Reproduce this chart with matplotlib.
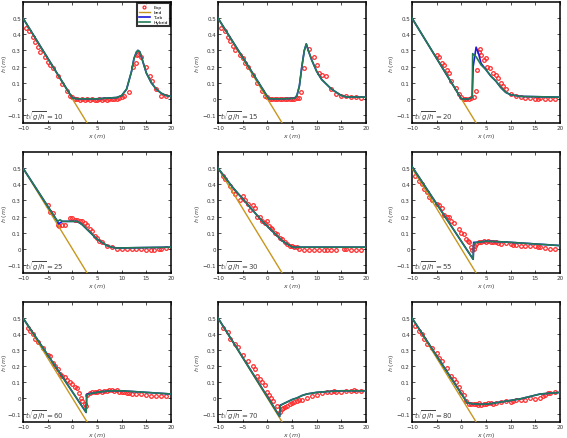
import matplotlib
matplotlib.use("Agg")
import matplotlib.pyplot as plt
import numpy as np

times = [10, 15, 20, 25, 30, 55, 60, 70, 80]
bed_x = [-10, 3]
bed_h = [0.5, -0.15]

# Hybrid model (green)
hyb_x = [
    [-10, 0, 1, 5, 9, 10, 11, 12, 12.5, 13, 13.3, 13.7, 14.2, 15, 16, 17, 18, 19, 20],
    [-10, 0.3, 3, 5.5, 6, 6.5, 7, 7.5, 7.9, 8.3, 9, 10, 11, 12, 13, 14, 15, 16, 20],
    [-10, 0, 0.5, 1.5, 2.2, 2.3, 3, 4, 5, 6, 7, 8, 9, 10, 11, 12, 20],
    [-10, -3, -2.5, -2, -1, 0, 1, 2, 3, 4, 5, 6, 7, 8, 9, 20],
    [-10, -7, -5, -3, -1, 1, 3, 4, 5, 5.5, 6, 20],
    [-10, 2.4, 2.5, 3, 5, 7, 10, 15, 20],
    [-10, 2.8, 2.9, 3, 4, 6, 8, 10, 15, 20],
    [-10, 2.5, 2.6, 3, 4, 5, 6, 7, 8, 9, 10, 12, 15, 20],
    [-10, 1.2, 2, 4, 6, 8, 10, 12, 14, 16, 18, 20],
]
hyb_h = [
    [0.5, 0.005, 0.0, 0.0, 0.008, 0.02, 0.06, 0.17, 0.25, 0.29, 0.30, 0.29, 0.24, 0.16, 0.10, 0.06, 0.035, 0.02, 0.015],
    [0.5, 0.0, 0.0, 0.003, 0.02, 0.08, 0.2, 0.3, 0.34, 0.3, 0.24, 0.17, 0.12, 0.09, 0.06, 0.04, 0.02, 0.012, 0.01],
    [0.5, 0.0, -0.003, 0.0, 0.01, 0.28, 0.26, 0.21, 0.18, 0.14, 0.11, 0.07, 0.04, 0.025, 0.02, 0.015, 0.01],
    [0.5, 0.17, 0.18, 0.17, 0.17, 0.17, 0.17, 0.15, 0.12, 0.09, 0.06, 0.04, 0.02, 0.01, 0.005, 0.01],
    [0.5, 0.38, 0.31, 0.24, 0.17, 0.11, 0.05, 0.03, 0.012, 0.008, 0.01, 0.01],
    [0.51, -0.065, 0.03, 0.04, 0.047, 0.045, 0.04, 0.03, 0.02],
    [0.5, -0.09, 0.0, 0.02, 0.03, 0.04, 0.045, 0.045, 0.035, 0.025],
    [0.5, -0.115, -0.05, -0.04, -0.025, -0.01, 0.0, 0.015, 0.025, 0.03, 0.035, 0.04, 0.045, 0.045],
    [0.5, -0.03, -0.035, -0.04, -0.035, -0.025, -0.015, -0.005, 0.01, 0.025, 0.03, 0.035],
]

# Turbulent model (blue)
turb_x = [
    [-10, 0, 1, 5, 9, 10, 11, 12, 12.5, 13, 13.3, 13.7, 14.2, 15, 16, 17, 18, 19, 20],
    [-10, 0.3, 3, 5.5, 6, 6.5, 7, 7.5, 7.9, 8.3, 9, 10, 11, 12, 13, 14, 15, 16, 20],
    [-10, 0, 0.5, 1.5, 2.2, 2.4, 3, 3.5, 4, 5, 6, 7, 8, 9, 10, 11, 12, 20],
    [-10, -3, -2.8, -2, -1, 0, 1, 2, 3, 4, 5, 6, 7, 8, 9, 20],
    [-10, -7, -5, -3, -1, 1, 3, 4, 5, 5.5, 6, 20],
    [-10, 2.4, 2.5, 3, 5, 7, 10, 15, 20],
    [-10, 2.8, 2.9, 3, 4, 6, 8, 10, 15, 20],
    [-10, 2.5, 2.6, 3, 4, 5, 6, 7, 8, 9, 10, 12, 15, 20],
    [-10, 1.2, 2, 4, 6, 8, 10, 12, 14, 16, 18, 20],
]
turb_h = [
    [0.5, 0.005, 0.0, 0.0, 0.008, 0.02, 0.06, 0.17, 0.25, 0.29, 0.30, 0.29, 0.24, 0.16, 0.10, 0.06, 0.035, 0.02, 0.015],
    [0.5, 0.0, 0.0, 0.003, 0.02, 0.08, 0.2, 0.3, 0.34, 0.3, 0.24, 0.17, 0.12, 0.09, 0.06, 0.04, 0.02, 0.012, 0.01],
    [0.5, 0.0, -0.003, 0.0, 0.01, 0.2, 0.32, 0.28, 0.22, 0.18, 0.14, 0.11, 0.07, 0.04, 0.025, 0.02, 0.015, 0.01],
    [0.5, 0.17, 0.155, 0.17, 0.17, 0.17, 0.17, 0.15, 0.12, 0.09, 0.06, 0.04, 0.02, 0.01, 0.005, 0.01],
    [0.5, 0.38, 0.31, 0.24, 0.17, 0.11, 0.05, 0.03, 0.012, 0.008, 0.01, 0.01],
    [0.51, -0.065, 0.04, 0.04, 0.047, 0.045, 0.04, 0.03, 0.02],
    [0.5, -0.09, 0.01, 0.025, 0.03, 0.04, 0.045, 0.045, 0.035, 0.025],
    [0.5, -0.115, -0.045, -0.04, -0.025, -0.01, 0.0, 0.015, 0.025, 0.03, 0.035, 0.04, 0.045, 0.045],
    [0.5, -0.03, -0.035, -0.04, -0.035, -0.025, -0.015, -0.005, 0.01, 0.025, 0.03, 0.035],
]

# Experimental data
exp_x = [
    [-9.3, -8.8, -8, -7.5, -7, -6.5, -5.5, -5, -4.5, -4, -3, -2, -1, -0.5, 0, 0.5, 1, 1.5, 2, 2.5, 3, 3.5, 4, 4.5, 5, 5.5, 6, 6.5, 7, 7.5, 8, 8.5, 9, 9.5, 10, 10.5, 11.5, 12.3, 13, 13.1, 13.3, 14, 15, 15.8, 16.2, 17, 18, 19],
    [-9.3, -8.5, -8, -7.5, -7, -6.5, -5.5, -5, -4.5, -4, -3, -2, -1, -0.5, 0, 0.5, 1, 1.5, 2, 2.5, 3, 3.5, 4, 4.5, 5, 5.5, 6, 6.5, 6.8, 7.5, 8.5, 9.5, 10, 10.5, 11, 11.8, 13, 14, 15, 16, 17, 18, 19],
    [-5, -4.5, -4, -3.5, -3, -2.5, -2, -1, -0.5, 0, 0.5, 1, 1.5, 2, 2.5, 3, 3.1, 3.5, 3.8, 4, 4.5, 5, 5.3, 5.8, 6.5, 7, 7.5, 8, 8.5, 9, 10, 11, 12, 13, 14, 15, 15.5, 16, 17, 18, 19],
    [-5, -4.5, -4, -3, -2.7, -2, -1.5, -0.5, 0, 0.5, 1, 1.5, 2, 2.5, 3, 3.5, 4, 4.5, 5, 5.5, 6, 7, 8, 9, 10, 11, 12, 13, 14, 15, 16, 16.5, 17.5, 18, 19],
    [-9, -8.5, -7.5, -7, -6.5, -5.5, -5, -4.5, -4, -3.5, -3, -2.5, -2, -1.5, -1, -0.5, 0, 0.3, 0.7, 1, 1.5, 2, 2.5, 3, 3.5, 4, 4.5, 5, 5.5, 6, 6.5, 7.5, 8.5, 9.5, 10.5, 11.5, 12, 13, 14, 15.5, 16, 17, 18, 19],
    [-9.3, -8.5, -8, -7.5, -7, -6.5, -6, -5, -4.5, -4, -3.5, -3, -2.5, -2, -1.5, -0.5, 0, 0.5, 1, 1.3, 1.5, 2, 2.2, 2.5, 2.8, 3, 3.5, 4, 4.5, 5, 5.5, 6, 6.5, 7, 7.5, 8, 9, 10, 10.5, 11, 12, 13, 14, 15, 15.5, 16, 17, 18, 19],
    [-9, -8.5, -8, -7.5, -7, -6, -5, -4.5, -4, -3.5, -3, -2.5, -2, -1.5, -1, -0.5, 0, 0.5, 1, 1.3, 1.7, 2, 2.5, 2.8, 3, 3.5, 4, 4.5, 5, 5.5, 6, 6.5, 7, 7.5, 8, 8.5, 9, 9.5, 10, 10.5, 11, 11.5, 12, 13, 14, 15, 16, 17, 18, 19],
    [-9, -8, -7.5, -6.5, -6, -5, -4, -3, -2.5, -2, -1.5, -1, -0.5, 0, 0.3, 0.8, 1.2, 2, 2.5, 3, 3.2, 3.5, 4, 4.5, 5, 5.5, 6, 6.5, 7, 8, 9, 10, 11, 12, 13, 13.5, 14, 15, 16, 17, 17.5, 18, 19],
    [-9.3, -8.5, -8, -7.5, -7, -6, -5, -4.5, -4, -3, -2, -1.5, -1, -0.5, 0, 0.5, 1, 1.5, 2, 2.5, 3, 3.3, 3.5, 4, 4.5, 5, 5.5, 6, 6.5, 7, 8, 9, 10, 10.5, 11, 12, 13, 14, 15, 16, 16.5, 17, 17.5, 18, 19],
]
exp_h = [
    [0.44, 0.42, 0.38, 0.35, 0.32, 0.29, 0.26, 0.23, 0.21, 0.19, 0.14, 0.09, 0.05, 0.02, 0.01, 0.0, -0.003, -0.005, -0.003, -0.005, -0.003, -0.005, -0.003, -0.005, -0.005, -0.003, -0.005, -0.003, -0.005, -0.003, -0.003, 0.0, 0.0, 0.005, 0.01, 0.02, 0.04, 0.2, 0.22, 0.27, 0.28, 0.26, 0.2, 0.14, 0.11, 0.06, 0.02, 0.02],
    [0.44, 0.42, 0.38, 0.36, 0.33, 0.3, 0.27, 0.25, 0.22, 0.2, 0.15, 0.1, 0.05, 0.02, 0.01, 0.0, 0.0, -0.003, 0.0, -0.003, 0.0, -0.003, 0.0, 0.0, 0.0, 0.0, 0.003, 0.005, 0.04, 0.19, 0.31, 0.26, 0.21, 0.16, 0.15, 0.14, 0.06, 0.03, 0.02, 0.015, 0.012, 0.01, 0.003],
    [0.27, 0.26, 0.22, 0.21, 0.18, 0.16, 0.11, 0.07, 0.03, 0.01, 0.0, -0.003, 0.0, 0.005, 0.01, 0.05, 0.18, 0.29, 0.31, 0.27, 0.24, 0.25, 0.2, 0.19, 0.16, 0.15, 0.13, 0.1, 0.08, 0.06, 0.03, 0.02, 0.01, 0.005, 0.005, 0.0, 0.0, 0.003, 0.0, 0.0, -0.003],
    [0.27, 0.23, 0.22, 0.15, 0.14, 0.15, 0.15, 0.19, 0.19, 0.18, 0.18, 0.17, 0.17, 0.16, 0.15, 0.12, 0.11, 0.08, 0.07, 0.05, 0.04, 0.02, 0.01, 0.0, 0.0, 0.0, -0.003, 0.0, -0.003, -0.005, -0.008, -0.005, 0.0, 0.0, 0.005],
    [0.45, 0.43, 0.39, 0.36, 0.34, 0.3, 0.33, 0.3, 0.28, 0.24, 0.27, 0.25, 0.2, 0.2, 0.17, 0.16, 0.17, 0.14, 0.13, 0.12, 0.1, 0.09, 0.07, 0.06, 0.04, 0.03, 0.02, 0.015, 0.01, 0.01, 0.0, -0.005, -0.005, -0.005, -0.005, -0.005, -0.01, -0.005, -0.01, 0.0, 0.0, -0.005, -0.005, -0.005],
    [0.45, 0.42, 0.4, 0.37, 0.35, 0.32, 0.3, 0.28, 0.27, 0.25, 0.21, 0.2, 0.2, 0.17, 0.16, 0.12, 0.1, 0.09, 0.06, 0.05, 0.04, 0.01, -0.01, 0.0, 0.02, 0.03, 0.04, 0.045, 0.05, 0.045, 0.05, 0.045, 0.04, 0.04, 0.035, 0.03, 0.035, 0.03, 0.025, 0.025, 0.02, 0.02, 0.015, 0.015, 0.01, 0.01, 0.005, 0.0, 0.0],
    [0.44, 0.42, 0.4, 0.37, 0.35, 0.31, 0.27, 0.26, 0.22, 0.2, 0.18, 0.15, 0.14, 0.13, 0.11, 0.1, 0.09, 0.07, 0.06, 0.03, 0.0, -0.02, -0.04, -0.05, 0.02, 0.03, 0.035, 0.04, 0.04, 0.045, 0.04, 0.045, 0.045, 0.05, 0.05, 0.045, 0.05, 0.04, 0.035, 0.035, 0.03, 0.03, 0.025, 0.025, 0.025, 0.02, 0.015, 0.015, 0.01, 0.01],
    [0.44, 0.41, 0.37, 0.34, 0.32, 0.27, 0.23, 0.2, 0.18, 0.14, 0.12, 0.1, 0.08, 0.04, 0.02, 0.0, -0.02, -0.05, -0.09, -0.07, -0.06, -0.055, -0.05, -0.04, -0.03, -0.025, -0.02, -0.015, -0.01, 0.0, 0.01, 0.02, 0.03, 0.035, 0.04, 0.045, 0.04, 0.04, 0.045, 0.045, 0.05, 0.045, 0.045],
    [0.45, 0.42, 0.4, 0.37, 0.34, 0.31, 0.28, 0.25, 0.23, 0.19, 0.14, 0.12, 0.1, 0.07, 0.04, 0.02, -0.02, -0.035, -0.04, -0.035, -0.04, -0.045, -0.03, -0.045, -0.04, -0.035, -0.03, -0.03, -0.035, -0.03, -0.025, -0.02, -0.025, -0.02, -0.015, -0.01, -0.01, 0.0, -0.005, 0.0, 0.015, 0.02, 0.03, 0.03, 0.035],
]

BED_C = '#c8961e'
TURB_C = '#1a1adb'
HYB_C = '#237a55'
EXP_C = '#ff2a2a'

W, H = 567, 439
fig = plt.figure(figsize=(W / 100, H / 100), dpi=100)

lefts = [23, 218, 412]
rights = [171, 366, 560]
tops = [3, 153, 303]
bottoms = [124, 274, 423]
ylab_px = [9, 202, 396]

for i, t in enumerate(times):
    r, c = divmod(i, 3)
    aw = rights[c] - lefts[c]
    ax = fig.add_axes([lefts[c] / W, 1 - bottoms[r] / H,
                       aw / W, (bottoms[r] - tops[r]) / H])
    ax.plot(exp_x[i], exp_h[i], 'o', ms=2.6, mfc='none', mec=EXP_C, mew=0.9, label='Exp', zorder=2)
    ax.plot(bed_x, bed_h, '-', color=BED_C, lw=1.0, label='bed', zorder=3)
    ax.plot(turb_x[i], turb_h[i], '-', color=TURB_C, lw=1.2, label='Turb', zorder=4)
    ax.plot(hyb_x[i], hyb_h[i], '-', color=HYB_C, lw=1.2, label='Hybrid', zorder=5)
    ax.set_xlim(-10, 20)
    ax.set_ylim(-0.15, 0.6)
    ax.set_xticks([-10, -5, 0, 5, 10, 15, 20])
    ax.set_yticks([-0.1, 0, 0.1, 0.2, 0.3, 0.4, 0.5])
    ax.set_yticklabels(['\u22120.1', '0', '0.1', '0.2', '0.3', '0.4', '0.5'])
    ax.set_xticklabels(['\u221210', '\u22125', '0', '5', '10', '15', '20'])
    ax.tick_params(direction='in', length=2, width=0.6, labelsize=4.1, pad=1.5,
                   top=True, right=True, colors='#333333')
    for s in ax.spines.values():
        s.set_linewidth(1.1)
    ax.set_xlabel(r'$x\ (m)$', fontsize=4.5, labelpad=0.5, color='#444444')
    ax.set_ylabel(r'$h\ (m)$', fontsize=4.5, color='#444444')
    ax.yaxis.set_label_coords((ylab_px[c] - lefts[c]) / aw, 0.5)
    ax.text(-9.5, -0.1, r'$t\sqrt{g/h}=%d$' % t, fontsize=5, color='#444444',
            va='center', ha='left')
    if i == 0:
        leg = ax.legend(loc='upper right', fontsize=3.2, frameon=True, fancybox=False,
                        borderpad=0.4, handlelength=2.5, labelspacing=0.2,
                        borderaxespad=0.3, markerscale=0.8)
        leg.get_frame().set_edgecolor('black')
        leg.get_frame().set_linewidth(1.5)

fig.savefig('out.png', dpi=100)
